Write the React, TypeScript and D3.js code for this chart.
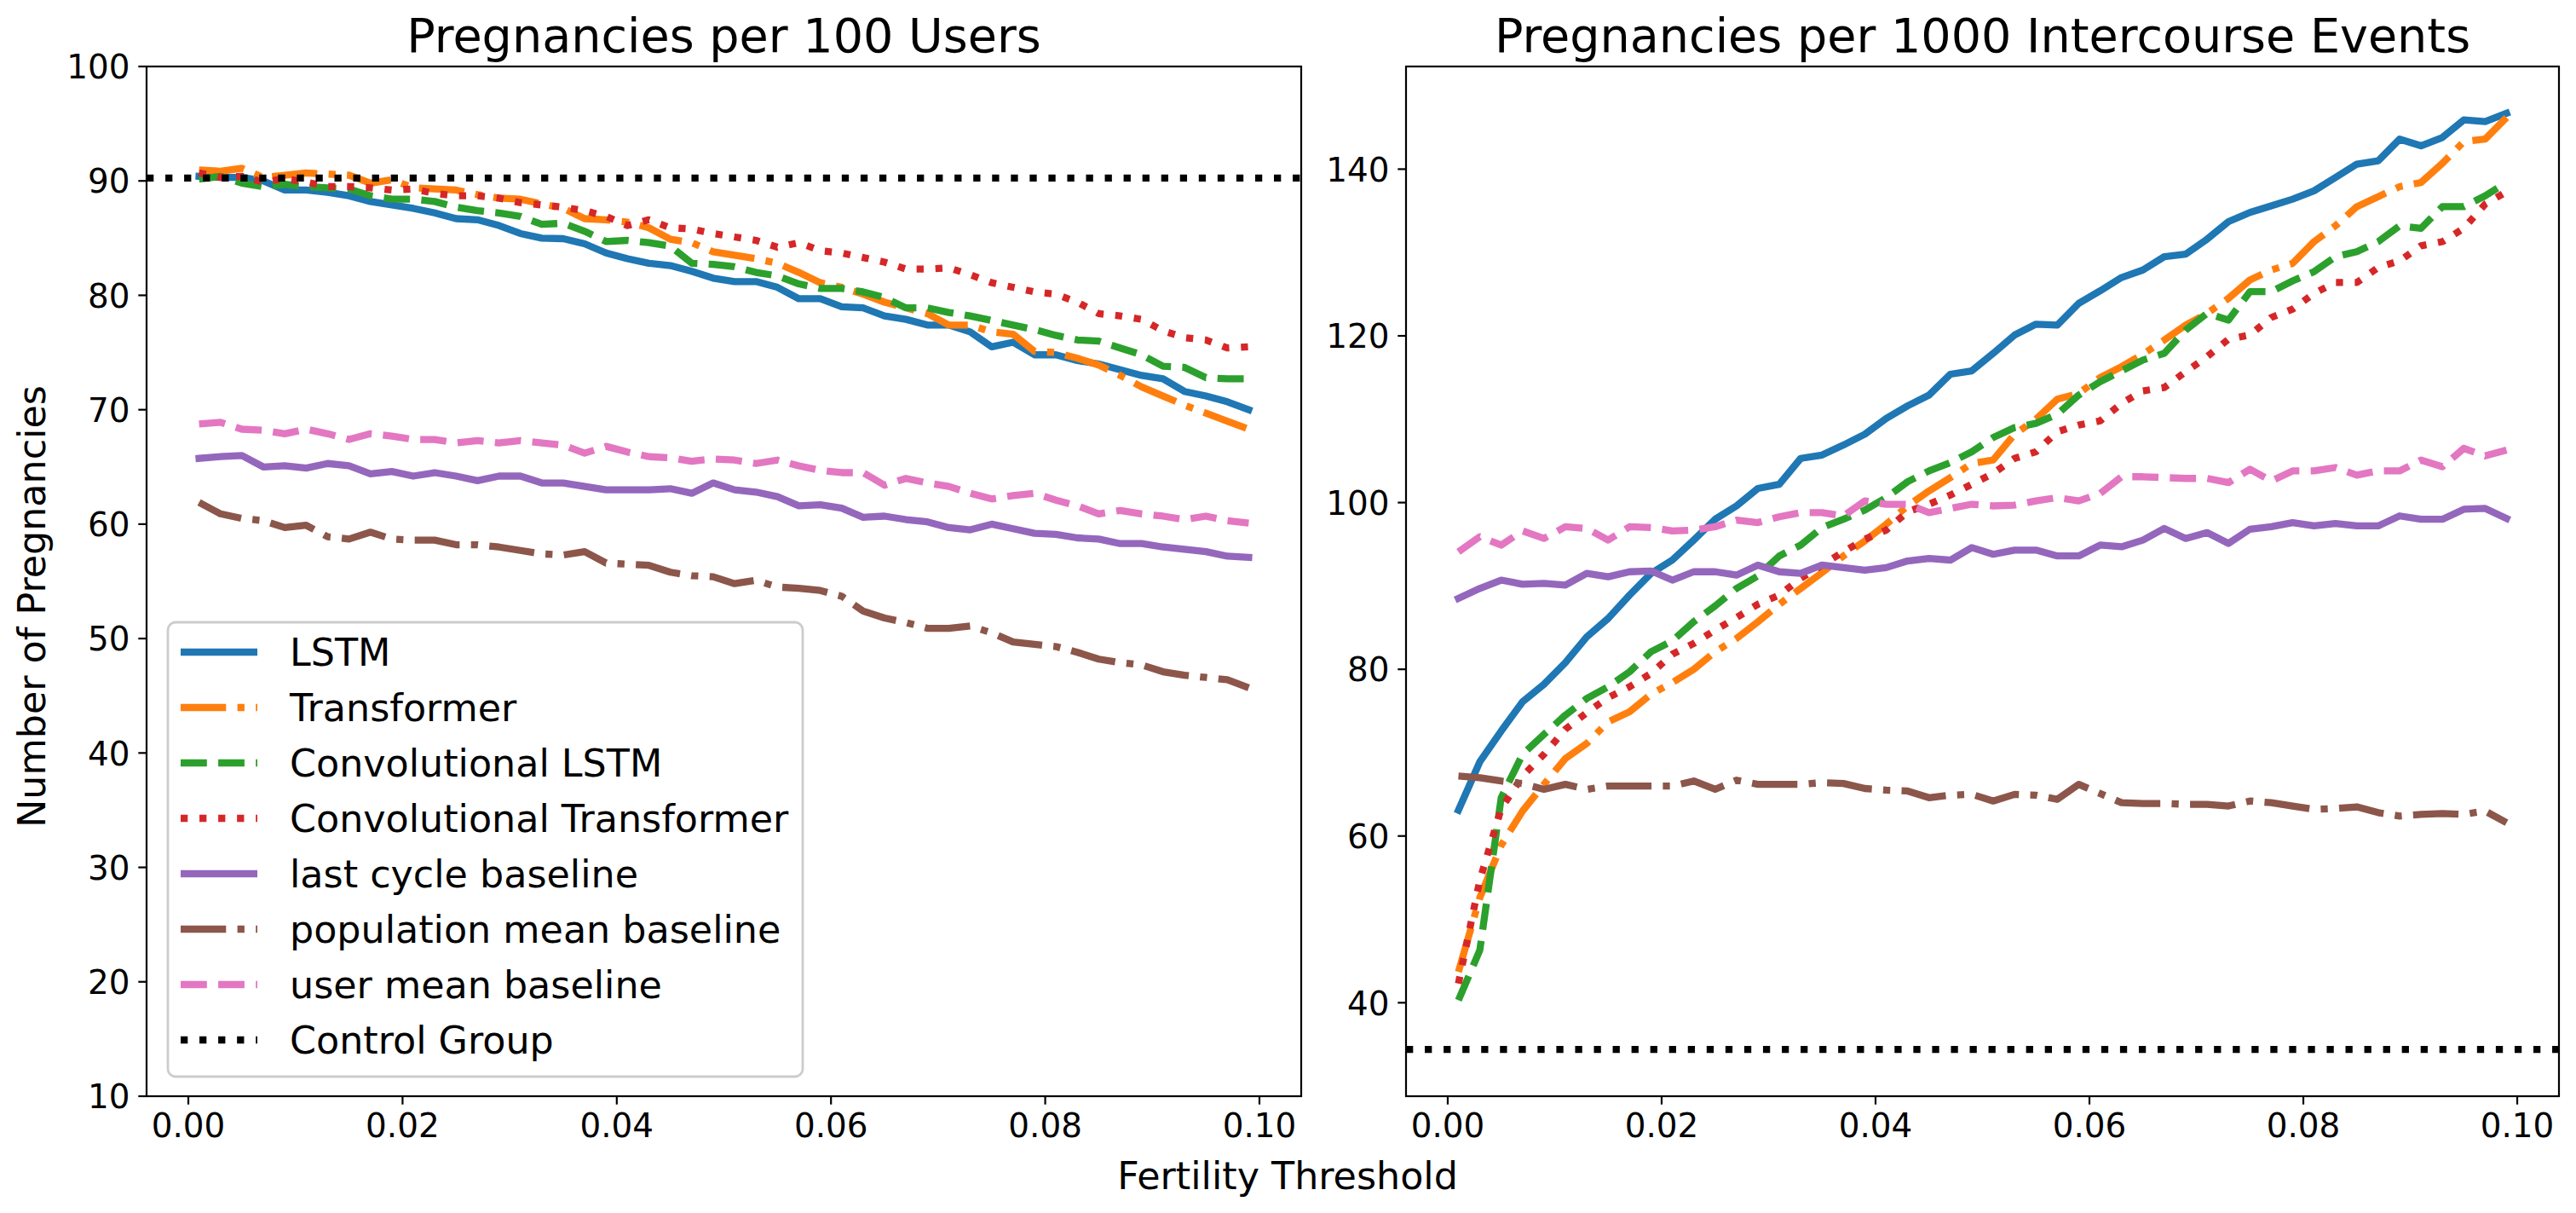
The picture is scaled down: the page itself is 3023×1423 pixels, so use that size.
import React from "react";
import * as d3 from "d3";

// fertility threshold grid (x values shared by both panels)
const thresholds = [
  0.001, 0.003, 0.005, 0.007, 0.009, 0.011, 0.013, 0.015, 0.017, 0.019,
  0.021, 0.023, 0.025, 0.027, 0.029, 0.031, 0.033, 0.035, 0.037, 0.039,
  0.041, 0.043, 0.045, 0.047, 0.049, 0.051, 0.053, 0.055, 0.057, 0.059,
  0.061, 0.063, 0.065, 0.067, 0.069, 0.071, 0.073, 0.075, 0.077, 0.079,
  0.081, 0.083, 0.085, 0.087, 0.089, 0.091, 0.093, 0.095, 0.097, 0.099,
];

// pregnancies per 100 users
const lstmUsers = [90.4, 90.3, 90.3, 90.0, 89.2, 89.2, 89.0, 88.7, 88.2, 87.9, 87.6, 87.2, 86.7, 86.6, 86.1, 85.4, 85.0, 84.95, 84.5, 83.7, 83.2, 82.8, 82.6, 82.1, 81.5, 81.2, 81.2, 80.7, 79.7, 79.7, 79.0, 78.9, 78.2, 77.9, 77.4, 77.4, 76.8, 75.5, 75.9, 74.8, 74.8, 74.3, 74.0, 73.5, 73.0, 72.7, 71.6, 71.2, 70.7, 70.0];
const transformerUsers = [90.96, 90.85, 91.1, 90.3, 90.5, 90.7, 90.6, 90.5, 89.8, 90.1, 89.4, 89.3, 89.2, 88.8, 88.5, 88.4, 88.0, 87.6, 86.7, 86.6, 86.4, 85.9, 84.9, 84.6, 83.8, 83.5, 83.2, 82.8, 82.0, 81.1, 80.7, 80.1, 79.4, 78.9, 78.4, 77.4, 77.4, 76.8, 76.6, 75.1, 75.0, 74.5, 73.9, 73.0, 72.0, 71.2, 70.4, 69.7, 69.0, 68.3];
const convLstmUsers = [90.16, 90.4, 89.8, 89.5, 89.7, 89.5, 89.4, 89.3, 88.7, 88.4, 88.4, 88.2, 87.7, 87.4, 87.2, 86.9, 86.2, 86.3, 85.6, 84.7, 84.8, 84.6, 84.3, 82.8, 82.7, 82.5, 82.0, 81.7, 81.0, 80.6, 80.6, 80.3, 79.8, 78.9, 78.9, 78.5, 78.2, 77.8, 77.4, 77.0, 76.5, 76.1, 76.0, 75.4, 74.8, 73.8, 73.7, 72.8, 72.7, 72.7];
const convTransformerUsers = [90.7, 90.3, 90.4, 89.9, 90.2, 89.9, 89.5, 89.5, 89.4, 89.2, 89.3, 88.9, 88.7, 88.7, 88.5, 88.1, 87.9, 87.7, 87.4, 86.9, 86.1, 86.6, 85.9, 85.8, 85.4, 85.1, 84.8, 84.2, 84.6, 83.9, 83.7, 83.3, 82.9, 82.3, 82.3, 82.4, 81.8, 81.1, 80.7, 80.3, 80.1, 79.4, 78.4, 78.2, 77.9, 76.9, 76.3, 76.1, 75.4, 75.5];
const lastCycleUsers = [65.75, 65.9, 66.0, 65.0, 65.1, 64.9, 65.3, 65.1, 64.4, 64.6, 64.2, 64.5, 64.2, 63.8, 64.2, 64.2, 63.6, 63.6, 63.3, 63.0, 63.0, 63.0, 63.1, 62.7, 63.6, 63.0, 62.8, 62.4, 61.6, 61.7, 61.4, 60.6, 60.7, 60.4, 60.2, 59.7, 59.5, 60.0, 59.6, 59.2, 59.1, 58.8, 58.7, 58.3, 58.3, 58.0, 57.8, 57.6, 57.2, 57.1];
const popMeanUsers = [61.9, 60.9, 60.5, 60.3, 59.7, 59.9, 58.9, 58.7, 59.3, 58.7, 58.6, 58.6, 58.2, 58.2, 58.0, 57.7, 57.4, 57.3, 57.6, 56.6, 56.5, 56.4, 55.8, 55.5, 55.4, 54.8, 55.1, 54.5, 54.4, 54.2, 53.7, 52.4, 51.8, 51.4, 50.9, 50.9, 51.1, 50.5, 49.7, 49.5, 49.3, 48.8, 48.2, 47.9, 47.7, 47.1, 46.8, 46.6, 46.4, 45.7];
const userMeanUsers = [68.75, 68.9, 68.3, 68.2, 67.9, 68.3, 67.9, 67.4, 67.9, 67.7, 67.4, 67.4, 67.1, 67.3, 67.1, 67.3, 67.1, 66.9, 66.2, 66.8, 66.3, 65.9, 65.8, 65.5, 65.7, 65.6, 65.3, 65.6, 65.1, 64.7, 64.5, 64.5, 63.4, 64.0, 63.6, 63.3, 62.7, 62.2, 62.5, 62.7, 62.1, 61.6, 60.9, 61.2, 60.9, 60.7, 60.4, 60.7, 60.3, 60.1];
const controlUsers = 90.25;

// pregnancies per 1000 intercourse events
const lstmEvents = [63.1, 68.9, 72.6, 76.1, 78.2, 80.8, 83.9, 86.1, 88.9, 91.5, 93.1, 95.5, 98.0, 99.6, 101.7, 102.2, 105.3, 105.7, 106.9, 108.2, 110.1, 111.6, 112.9, 115.4, 115.8, 117.9, 120.1, 121.4, 121.3, 123.9, 125.4, 127.0, 127.9, 129.5, 129.8, 131.6, 133.7, 134.8, 135.6, 136.4, 137.4, 139.0, 140.6, 141.0, 143.6, 142.8, 143.8, 145.9, 145.7, 146.7];
const transformerEvents = [43.7, 52.6, 58.9, 63.0, 66.2, 69.3, 71.1, 73.7, 74.9, 77.0, 78.4, 80.0, 82.1, 83.7, 85.7, 87.8, 89.7, 91.6, 93.6, 95.4, 97.4, 99.6, 101.4, 103.0, 104.7, 105.1, 108.2, 110.0, 112.4, 113.1, 115.0, 116.3, 117.8, 119.5, 121.3, 122.7, 124.5, 126.7, 127.9, 128.7, 131.3, 133.2, 135.5, 136.7, 137.9, 138.4, 140.7, 143.3, 143.6, 146.2];
const convLstmEvents = [40.3, 46.3, 64.6, 69.8, 72.2, 74.5, 76.5, 77.9, 79.7, 82.1, 83.4, 85.7, 87.6, 89.7, 91.2, 93.6, 94.9, 97.0, 98.0, 99.1, 100.6, 102.5, 103.8, 104.8, 106.1, 107.8, 109.0, 109.5, 110.6, 112.9, 114.5, 115.8, 117.1, 117.9, 120.7, 122.7, 121.9, 125.3, 125.3, 126.6, 127.7, 129.5, 130.1, 131.3, 133.2, 132.9, 135.5, 135.5, 136.8, 138.4];
const convTransformerEvents = [42.3, 54.7, 63.3, 67.2, 69.8, 72.8, 74.8, 76.6, 77.9, 79.5, 81.8, 83.1, 84.7, 86.2, 87.8, 88.9, 90.9, 92.5, 94.1, 95.6, 96.7, 98.9, 99.8, 100.9, 102.2, 103.5, 105.3, 106.1, 108.5, 109.3, 109.8, 111.9, 113.4, 113.8, 115.7, 117.5, 119.6, 120.1, 122.2, 123.2, 125.1, 126.4, 126.4, 128.2, 129.0, 130.8, 131.3, 132.9, 135.8, 137.3];
const lastCycleEvents = [88.5, 89.7, 90.7, 90.2, 90.3, 90.1, 91.5, 91.1, 91.7, 91.8, 90.7, 91.7, 91.7, 91.3, 92.5, 91.7, 91.5, 92.5, 92.2, 91.9, 92.2, 93.0, 93.3, 93.1, 94.6, 93.8, 94.3, 94.3, 93.6, 93.6, 94.9, 94.7, 95.5, 96.9, 95.7, 96.4, 95.1, 96.8, 97.1, 97.6, 97.2, 97.5, 97.2, 97.2, 98.4, 98.0, 98.0, 99.2, 99.3, 98.1];
const popMeanEvents = [67.2, 67.0, 66.6, 66.3, 65.6, 66.2, 65.6, 66.0, 66.0, 66.0, 66.0, 66.6, 65.6, 66.7, 66.2, 66.2, 66.2, 66.4, 66.3, 65.7, 65.5, 65.4, 64.6, 64.9, 65.0, 64.2, 65.0, 64.9, 64.4, 66.2, 65.1, 64.0, 63.9, 63.9, 63.8, 63.8, 63.6, 64.2, 64.0, 63.6, 63.2, 63.3, 63.5, 62.8, 62.4, 62.6, 62.7, 62.6, 63.0, 61.6];
const userMeanEvents = [94.1, 95.9, 94.9, 96.6, 95.7, 97.1, 96.9, 95.5, 97.1, 97.0, 96.6, 96.7, 97.1, 97.9, 97.6, 98.3, 98.8, 98.8, 98.4, 100.2, 99.8, 99.8, 98.8, 99.3, 99.8, 99.6, 99.7, 100.2, 100.6, 100.2, 101.1, 103.1, 103.1, 103.0, 102.9, 102.9, 102.4, 104.0, 102.6, 103.8, 103.8, 104.2, 103.3, 103.8, 103.8, 105.1, 104.3, 106.5, 105.6, 106.3];
const controlEvents = 34.4;

const seriesNames = [
  "LSTM",
  "Transformer",
  "Convolutional LSTM",
  "Convolutional Transformer",
  "last cycle baseline",
  "population mean baseline",
  "user mean baseline",
  "Control Group",
];
const seriesColors = ["#1f77b4", "#ff7f0e", "#2ca02c", "#d62728", "#9467bd", "#8c564b", "#e377c2", "#000000"];
const xTicks = [0, 0.02, 0.04, 0.06, 0.08, 0.1];
const usersTicks = [10, 20, 30, 40, 50, 60, 70, 80, 90, 100];
const eventsTicks = [40, 60, 80, 100, 120, 140];

// matplotlib-like styling at ~200 dpi
const LW = 8.3;
const DASHED = "30.8,13.3";
const DASHDOT = "53.3,13.3,8.3,13.3";
const DOTTED = "8.3,13.75";
const seriesDash = ["", DASHDOT, DASHED, DOTTED, "", DASHDOT, DASHED, DOTTED];
const FONT = "DejaVu Sans, sans-serif";
const TICK_FS = 38.9;
const LABEL_FS = 44.4;
const TITLE_FS = 55.6;

const W = 3023;
const H = 1423;
const TOP = 78;
const BOTTOM = 1286;

const padExtent = (vals: number[]): [number, number] => {
  const [lo, hi] = d3.extent(vals) as [number, number];
  const m = (hi - lo) * 0.05;
  return [lo - m, hi + m];
};

interface PanelProps {
  id: string;
  x0: number;
  x1: number;
  title: string;
  series: number[][];
  control: number;
  yDomain: [number, number];
  yTicks: number[];
  legend?: boolean;
}

function Panel({ id, x0, x1, title, series, control, yDomain, yTicks, legend }: PanelProps) {
  const x = d3.scaleLinear().domain(padExtent(thresholds)).range([x0, x1]);
  const y = d3.scaleLinear().domain(yDomain).range([BOTTOM, TOP]);
  const line = d3
    .line<number>()
    .x((_, i) => x(thresholds[i]))
    .y((d) => y(d));

  const legendX = 197;
  const legendY = 730;
  const rowGap = 65;

  return (
    <g>
      <defs>
        <clipPath id={`clip-${id}`}>
          <rect x={x0} y={TOP} width={x1 - x0} height={BOTTOM - TOP} />
        </clipPath>
      </defs>
      <g clipPath={`url(#clip-${id})`}>
        {series.map((vals, k) => (
          <path
            key={k}
            d={line(vals) || ""}
            fill="none"
            stroke={seriesColors[k]}
            strokeWidth={LW}
            strokeDasharray={seriesDash[k] || undefined}
            strokeLinecap={seriesDash[k] ? "butt" : "square"}
            strokeLinejoin="round"
          />
        ))}
        <line
          x1={x0}
          x2={x1}
          y1={y(control)}
          y2={y(control)}
          stroke={seriesColors[7]}
          strokeWidth={LW}
          strokeDasharray={seriesDash[7]}
        />
      </g>
      {/* frame */}
      <rect x={x0} y={TOP} width={x1 - x0} height={BOTTOM - TOP} fill="none" stroke="#000" strokeWidth={2.2} />
      {/* x ticks */}
      {xTicks.map((t) => (
        <g key={t}>
          <line x1={x(t)} x2={x(t)} y1={BOTTOM} y2={BOTTOM + 9.7} stroke="#000" strokeWidth={2.2} />
          <text x={x(t)} y={1334} textAnchor="middle" fontSize={TICK_FS} fontFamily={FONT}>
            {t.toFixed(2)}
          </text>
        </g>
      ))}
      {/* y ticks */}
      {yTicks.map((t) => (
        <g key={t}>
          <line x1={x0 - 9.7} x2={x0} y1={y(t)} y2={y(t)} stroke="#000" strokeWidth={2.2} />
          <text x={x0 - 19.4} y={y(t) + 14.2} textAnchor="end" fontSize={TICK_FS} fontFamily={FONT}>
            {t}
          </text>
        </g>
      ))}
      <text x={(x0 + x1) / 2} y={61} textAnchor="middle" fontSize={TITLE_FS} fontFamily={FONT}>
        {title}
      </text>
      {legend && (
        <g>
          <rect
            x={legendX}
            y={legendY}
            width={745}
            height={533}
            rx={9}
            ry={9}
            fill="#fff"
            fillOpacity={0.8}
            stroke="#cccccc"
            strokeWidth={2.8}
          />
          {seriesNames.map((name, k) => {
            const cy = 765 + k * rowGap;
            return (
              <g key={name}>
                <line
                  x1={212}
                  x2={302}
                  y1={cy}
                  y2={cy}
                  stroke={seriesColors[k]}
                  strokeWidth={LW}
                  strokeDasharray={seriesDash[k] || undefined}
                />
                <text x={340} y={cy + 16} fontSize={LABEL_FS} fontFamily={FONT}>
                  {name}
                </text>
              </g>
            );
          })}
        </g>
      )}
    </g>
  );
}

export default function App() {
  const usersSeries = [lstmUsers, transformerUsers, convLstmUsers, convTransformerUsers, lastCycleUsers, popMeanUsers, userMeanUsers];
  const eventsSeries = [lstmEvents, transformerEvents, convLstmEvents, convTransformerEvents, lastCycleEvents, popMeanEvents, userMeanEvents];
  const eventsDomain = padExtent([...eventsSeries.flat(), controlEvents]);

  return (
    <div style={{ position: "absolute", left: 0, top: 0 }}>
      <svg width={W} height={H} viewBox={`0 0 ${W} ${H}`} style={{ display: "block", background: "#fff" }}>
        <rect width={W} height={H} fill="#fff" />
        <Panel
          id="users"
          x0={172}
          x1={1527}
          title="Pregnancies per 100 Users"
          series={usersSeries}
          control={controlUsers}
          yDomain={[10, 100]}
          yTicks={usersTicks}
          legend
        />
        <Panel
          id="events"
          x0={1650}
          x1={3003}
          title="Pregnancies per 1000 Intercourse Events"
          series={eventsSeries}
          control={controlEvents}
          yDomain={eventsDomain}
          yTicks={eventsTicks}
        />
        <text x={1511} y={1395} textAnchor="middle" fontSize={LABEL_FS} fontFamily={FONT}>
          Fertility Threshold
        </text>
        <text
          transform="translate(53,711.5) rotate(-90)"
          textAnchor="middle"
          fontSize={LABEL_FS}
          fontFamily={FONT}
        >
          Number of Pregnancies
        </text>
      </svg>
    </div>
  );
}
